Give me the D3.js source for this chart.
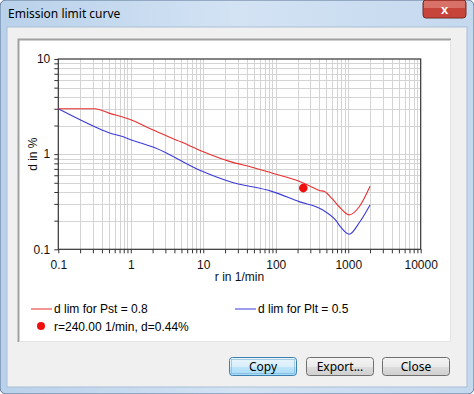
<!DOCTYPE html>
<html>
<head>
<meta charset="utf-8">
<script src="https://cdn.jsdelivr.net/npm/d3@7"></script>
<style>
  html, body { margin: 0; padding: 0; background: #fff; }
  svg { display: block; }
</style>
</head>
<body>
<div class="container"></div>
<script>
// curve data
const rPst = [0.1, 0.32, 0.5, 1, 2, 5, 10, 23, 50, 90, 210, 300, 400, 470, 600, 750, 1030, 1420, 2000]
const dPst = [3.0, 3.0, 2.7, 2.3, 1.8, 1.34, 1.06, 0.84, 0.72, 0.63, 0.52, 0.46, 0.415, 0.404, 0.34, 0.28, 0.23, 0.28, 0.46]
const rPlt = [0.1, 0.33, 0.5, 0.77, 1, 2.2, 8.8, 23, 90, 210, 440, 680, 770, 1030, 1450, 2000]
const dPlt = [3.0, 1.92, 1.68, 1.53, 1.42, 1.16, 0.68, 0.515, 0.404, 0.317, 0.26, 0.2, 0.175, 0.144, 0.195, 0.293]
const markR = [240]
const markD = [0.44]
const xTickLabels = [0.1, 1, 10, 100, 1000, 10000]
const yTickLabels = [0.1, 1, 10]
const legendLabels = ['d lim for Pst = 0.8', 'd lim for Plt = 0.5', 'r=240.00 1/min, d=0.44%']
const buttonLabels = ['Copy', 'Export...', 'Close']

const width = 474
const height = 394
const uiFont = '"Noto Sans", "DejaVu Sans", sans-serif'
const chartFont = '"Liberation Sans", Arial, sans-serif'

const svg = d3.select('.container')
    .append('svg')
    .attr('width', width)
    .attr('height', height)

// window frame
const frameGrad = svg.append('defs').append('linearGradient')
    .attr('id', 'frame').attr('x1', 0).attr('x2', 1).attr('y1', 0).attr('y2', 0)
frameGrad.append('stop').attr('offset', '0%').attr('stop-color', '#b9d1ea')
frameGrad.append('stop').attr('offset', '50%').attr('stop-color', '#d3e3f4')
frameGrad.append('stop').attr('offset', '100%').attr('stop-color', '#c4d8ee')

svg.append('rect').attr('width', width).attr('height', height).attr('fill', 'url(#frame)')
    .attr('stroke', '#5b7594').attr('rx', 6)
svg.append('text').attr('x', 8).attr('y', 18)
    .style('font-family', uiFont).style('font-size', '12px').attr('fill', '#000')
    .text('Emission limit curve')

// close button
const closeBtn = svg.append('g').attr('transform', 'translate(423,0)')
closeBtn.append('rect').attr('width', 43).attr('height', 18).attr('rx', 3)
    .attr('fill', '#c7443a').attr('stroke', '#7a2a24')
closeBtn.append('rect').attr('x', 1).attr('y', 1).attr('width', 41).attr('height', 7)
    .attr('fill', '#e0857c').attr('opacity', 0.7)
closeBtn.append('text').attr('x', 21.5).attr('y', 13.5).attr('text-anchor', 'middle')
    .style('font-family', chartFont).style('font-size', '13px').style('font-weight', 'bold')
    .attr('fill', '#fff').text('x')

// client area
svg.append('rect').attr('x', 7).attr('y', 27).attr('width', 460).attr('height', 360)
    .attr('fill', '#f0f0f0').attr('stroke', '#a9bfd6')

// white panel with sunken border
svg.append('rect').attr('x', 18).attr('y', 39).attr('width', 433).attr('height', 303)
    .attr('fill', '#fff')
svg.append('path').attr('d', 'M18.5,342V39.5H451').attr('fill', 'none').attr('stroke', '#a0a0a0').attr('stroke-width', 2)
svg.append('path').attr('d', 'M19.5,341.5H450.5V40').attr('fill', 'none').attr('stroke', '#e3e3e3')

// plot
const plotLeft = 58.3
const plotRight = 420.7
const plotTop = 59
const plotBottom = 249.3

const x = d3.scaleLog().domain([0.1, 10000]).range([plotLeft, plotRight])
const y = d3.scaleLog().domain([0.1, 10]).range([plotBottom, plotTop])

const gridX = x.ticks().filter(d => d > 0.1 && d < 10000)
const gridY = y.ticks().filter(d => d > 0.1 && d < 10)

const g = svg.append('g')

g.selectAll('.gx').data(gridX).join('line')
    .attr('x1', d => Math.round(x(d)) + 0.5).attr('x2', d => Math.round(x(d)) + 0.5)
    .attr('y1', plotTop).attr('y2', plotBottom)
    .attr('stroke', '#d4d4d4')
g.selectAll('.gy').data(gridY).join('line')
    .attr('y1', d => Math.round(y(d)) + 0.5).attr('y2', d => Math.round(y(d)) + 0.5)
    .attr('x1', plotLeft).attr('x2', plotRight)
    .attr('stroke', '#d4d4d4')

// axes
const xAxis = d3.axisBottom(x)
    .tickValues(x.ticks())
    .tickSize(4)
    .tickFormat(d => xTickLabels.includes(d) ? String(d) : '')
const yAxis = d3.axisLeft(y)
    .tickValues(y.ticks())
    .tickSize(4)
    .tickFormat(d => yTickLabels.includes(d) ? String(d) : '')

const gx = svg.append('g').attr('transform', `translate(0,${plotBottom})`).call(xAxis)
const gy = svg.append('g').attr('transform', `translate(${plotLeft},0)`).call(yAxis)
;[gx, gy].forEach(a => {
    a.select('.domain').remove()
    a.selectAll('line').attr('stroke', '#333')
    a.selectAll('text').style('font-family', chartFont).style('font-size', '12px').attr('fill', '#111')
})
gx.selectAll('text').attr('dy', '1.05em')
gy.selectAll('text').attr('dx', '-1px')

svg.append('rect').attr('x', plotLeft).attr('y', plotTop)
    .attr('width', plotRight - plotLeft).attr('height', plotBottom - plotTop)
    .attr('fill', 'none').attr('stroke', '#333').attr('stroke-width', 1.2)

svg.append('text').attr('x', (plotLeft + plotRight) / 2).attr('y', 281)
    .attr('text-anchor', 'middle')
    .style('font-family', chartFont).style('font-size', '12px').attr('fill', '#111')
    .text('r in 1/min')
svg.append('text')
    .attr('transform', `translate(37,${(plotTop + plotBottom) / 2}) rotate(-90)`)
    .attr('text-anchor', 'middle')
    .style('font-family', chartFont).style('font-size', '12px').attr('fill', '#111')
    .text('d in %')

// curves
const line = d3.line()
    .x(d => x(d[0]))
    .y(d => y(d[1]))
    .curve(d3.curveMonotoneX)

svg.append('path').datum(rPlt.map((r, i) => [r, dPlt[i]]))
    .attr('d', line).attr('fill', 'none').attr('stroke', '#3b3bd6').attr('stroke-width', 1.1)
svg.append('path').datum(rPst.map((r, i) => [r, dPst[i]]))
    .attr('d', line).attr('fill', 'none').attr('stroke', '#e8302f').attr('stroke-width', 1.1)

svg.selectAll('.mark').data(markR).join('circle')
    .attr('cx', d => x(d)).attr('cy', (d, i) => y(markD[i])).attr('r', 4.3)
    .attr('fill', '#f00f0f')

// legend
const legend = svg.append('g').style('font-family', chartFont).style('font-size', '12px')
legend.append('line').attr('x1', 31).attr('x2', 52).attr('y1', 309).attr('y2', 309).attr('stroke', '#e8302f')
legend.append('text').attr('x', 54).attr('y', 313).text(legendLabels[0])
legend.append('line').attr('x1', 235).attr('x2', 256).attr('y1', 309).attr('y2', 309).attr('stroke', '#3b3bd6')
legend.append('text').attr('x', 258).attr('y', 313).text(legendLabels[1])
legend.append('circle').attr('cx', 41).attr('cy', 326).attr('r', 4).attr('fill', '#f00f0f')
legend.append('text').attr('x', 54).attr('y', 331).text(legendLabels[2])

// buttons
const btnGrad = svg.select('defs').append('linearGradient')
    .attr('id', 'btn').attr('x1', 0).attr('x2', 0).attr('y1', 0).attr('y2', 1)
btnGrad.append('stop').attr('offset', '0%').attr('stop-color', '#f4f4f4')
btnGrad.append('stop').attr('offset', '50%').attr('stop-color', '#ebebeb')
btnGrad.append('stop').attr('offset', '51%').attr('stop-color', '#dddddd')
btnGrad.append('stop').attr('offset', '100%').attr('stop-color', '#cfcfcf')
const focusGrad = svg.select('defs').append('linearGradient')
    .attr('id', 'btnf').attr('x1', 0).attr('x2', 0).attr('y1', 0).attr('y2', 1)
focusGrad.append('stop').attr('offset', '0%').attr('stop-color', '#e9f5fc')
focusGrad.append('stop').attr('offset', '50%').attr('stop-color', '#d9eefa')
focusGrad.append('stop').attr('offset', '51%').attr('stop-color', '#bee6fd')
focusGrad.append('stop').attr('offset', '100%').attr('stop-color', '#a7d9f5')

const btnX = [229, 306, 382]
const btns = svg.selectAll('.btn').data(buttonLabels).join('g')
    .attr('transform', (d, i) => `translate(${btnX[i]},357)`)
btns.append('rect').attr('x', 0.5).attr('y', 0.5).attr('width', 67).attr('height', 18).attr('rx', 3)
    .attr('fill', (d, i) => i === 0 ? 'url(#btnf)' : 'url(#btn)')
    .attr('stroke', (d, i) => i === 0 ? '#3c7fb1' : '#707070')
btns.filter((d, i) => i === 0).append('rect').attr('x', 2.5).attr('y', 2.5).attr('width', 63).attr('height', 14)
    .attr('fill', 'none').attr('stroke', '#6aa6d0').attr('stroke-dasharray', '1,1')
btns.append('text').attr('x', 34).attr('y', 13.5).attr('text-anchor', 'middle')
    .style('font-family', uiFont).style('font-size', '12px').attr('fill', '#000')
    .text(d => d)
</script>
</body>
</html>
